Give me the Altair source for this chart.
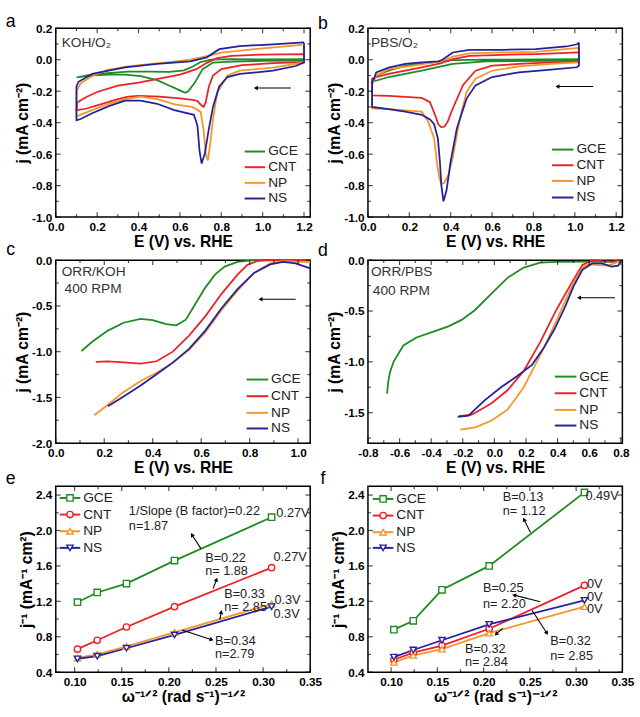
import math
import altair as alt
import pandas as pd

FONT = "Liberation Sans"
SERIES = ["GCE", "CNT", "NP", "NS"]
COLORS = ["#1f8b24", "#ec2227", "#f7942a", "#21239b"]
SHAPES = ["square", "circle", "triangle-up", "triangle-down"]
W = 260

# ---------------- (a) CV in O2-saturated KOH (closed loops) ----------------
a_gce_x = [1.20, 1.00, 0.85, 0.76, 0.71, 0.67, 0.64, 0.625, 0.60, 0.55, 0.49, 0.41, 0.335, 0.256, 0.176, 0.10,
           0.15, 0.25, 0.35, 0.45, 0.55, 0.62, 0.66, 0.70, 0.75, 0.85, 1.00, 1.20, 1.20]
a_gce_y = [-0.006, -0.008, -0.012, -0.018, -0.06, -0.15, -0.20, -0.21, -0.195, -0.165, -0.13, -0.105, -0.095, -0.095, -0.10, -0.113,
           -0.10, -0.085, -0.075, -0.075, -0.078, -0.068, -0.045, -0.015, 0.0, 0.003, 0.002, 0.003, -0.006]
a_cnt_x = [1.20, 1.20, 1.05, 0.90, 0.80, 0.76, 0.74, 0.725, 0.715, 0.70, 0.685, 0.66, 0.60, 0.50, 0.40, 0.35, 0.30, 0.20, 0.15, 0.105, 0.10,
           0.105, 0.15, 0.20, 0.30, 0.40, 0.50, 0.60, 0.68, 0.73, 0.78, 0.85, 1.00, 1.20]
a_cnt_y = [0.035, -0.015, -0.022, -0.035, -0.06, -0.10, -0.17, -0.27, -0.30, -0.285, -0.262, -0.255, -0.245, -0.235, -0.23, -0.235, -0.25, -0.29, -0.31, -0.32, -0.32,
           -0.27, -0.235, -0.205, -0.165, -0.145, -0.12, -0.095, -0.06, -0.02, 0.01, 0.025, 0.032, 0.035]
a_np_x = [1.20, 1.20, 1.05, 0.89, 0.83, 0.78, 0.76, 0.745, 0.735, 0.725, 0.715, 0.70, 0.66, 0.58, 0.49, 0.41, 0.335, 0.256, 0.176, 0.11, 0.10,
          0.10, 0.12, 0.18, 0.25, 0.35, 0.45, 0.55, 0.65, 0.72, 0.80, 0.96, 1.19]
a_np_y = [0.095, -0.017, -0.05, -0.07, -0.10, -0.21, -0.38, -0.55, -0.64, -0.60, -0.45, -0.33, -0.30, -0.285, -0.25, -0.235, -0.25, -0.28, -0.32, -0.355, -0.36,
          -0.20, -0.15, -0.10, -0.065, -0.042, -0.028, -0.015, 0.0, 0.02, 0.045, 0.067, 0.094]
a_ns_x = [1.20, 1.20, 1.16, 1.05, 0.89, 0.83, 0.79, 0.76, 0.74, 0.72, 0.705, 0.695, 0.685, 0.668, 0.573, 0.49, 0.41, 0.335, 0.256, 0.176, 0.12, 0.10,
          0.10, 0.11, 0.176, 0.335, 0.49, 0.65, 0.73, 0.79, 0.89, 1.05, 1.20]
a_ns_y = [0.11, -0.017, -0.04, -0.07, -0.09, -0.11, -0.17, -0.30, -0.44, -0.60, -0.66, -0.58, -0.42, -0.35, -0.32, -0.28, -0.26, -0.26, -0.295, -0.34, -0.377, -0.385,
          -0.17, -0.14, -0.09, -0.048, -0.027, -0.01, 0.015, 0.067, 0.087, 0.098, 0.11]

# ---------------- (b) CV in O2-saturated PBS ----------------
b_gce_x = [1.02, 1.02, 0.57, 0.41, 0.26, 0.10, 0.02, 0.02, 0.04, 0.10, 0.18, 0.26, 0.335, 0.41, 0.57, 1.02]
b_gce_y = [0.004, -0.006, -0.01, -0.027, -0.07, -0.11, -0.14, -0.14, -0.10, -0.07, -0.038, -0.023, -0.013, -0.002, 0.0, 0.004]
b_cnt_x = [1.02, 1.02, 0.885, 0.73, 0.60, 0.52, 0.46, 0.41, 0.385, 0.37, 0.355, 0.34, 0.33, 0.30, 0.26, 0.10, 0.02,
           0.02, 0.04, 0.10, 0.26, 0.35, 0.41, 0.49, 0.65, 0.81, 1.02]
b_cnt_y = [0.046, -0.01, -0.017, -0.027, -0.038, -0.07, -0.16, -0.31, -0.395, -0.425, -0.43, -0.41, -0.37, -0.27, -0.243, -0.23, -0.226,
           -0.12, -0.11, -0.09, -0.048, -0.023, 0.004, 0.025, 0.031, 0.036, 0.046]
b_np_x = [1.02, 1.02, 0.885, 0.73, 0.60, 0.52, 0.477, 0.445, 0.41, 0.39, 0.37, 0.355, 0.345, 0.335, 0.32, 0.29, 0.26, 0.10, 0.02,
          0.02, 0.04, 0.10, 0.26, 0.35, 0.41, 0.49, 0.65, 0.81, 1.02]
b_np_y = [0.075, -0.017, -0.027, -0.042, -0.07, -0.12, -0.205, -0.37, -0.62, -0.73, -0.78, -0.79, -0.75, -0.67, -0.50, -0.39, -0.33, -0.314, -0.31,
          -0.16, -0.10, -0.06, -0.03, -0.013, 0.02, 0.04, 0.046, 0.05, 0.075]
b_ns_x = [1.02, 1.02, 1.01, 0.885, 0.73, 0.60, 0.52, 0.477, 0.43, 0.40, 0.38, 0.365, 0.355, 0.348, 0.338, 0.32, 0.30, 0.26, 0.18, 0.10, 0.02,
          0.02, 0.03, 0.04, 0.10, 0.18, 0.26, 0.34, 0.36, 0.41, 0.49, 0.65, 0.81, 0.96, 1.01, 1.02]
b_ns_y = [0.11, -0.038, -0.048, -0.063, -0.08, -0.11, -0.163, -0.247, -0.435, -0.645, -0.83, -0.90, -0.80, -0.65, -0.50, -0.41, -0.38, -0.35, -0.33, -0.314, -0.30,
          -0.14, -0.12, -0.08, -0.05, -0.027, -0.017, -0.01, 0.0, 0.046, 0.063, 0.063, 0.067, 0.084, 0.098, 0.11]

# ---------------- (c) LSV, ORR in KOH at 400 rpm ----------------
c_gce_x = [0.106, 0.149, 0.215, 0.28, 0.35, 0.40, 0.456, 0.497, 0.537, 0.577, 0.617, 0.657, 0.697, 0.75, 0.818, 0.90, 1.05]
c_gce_y = [-0.993, -0.895, -0.77, -0.684, -0.642, -0.656, -0.70, -0.712, -0.65, -0.474, -0.30, -0.158, -0.07, -0.018, 0.0, 0.0, 0.0]
c_cnt_x = [0.165, 0.215, 0.28, 0.35, 0.416, 0.483, 0.55, 0.617, 0.684, 0.75, 0.79, 0.83, 0.885, 0.95, 1.05]
c_cnt_y = [-1.112, -1.105, -1.116, -1.13, -1.105, -1.0, -0.825, -0.614, -0.368, -0.158, -0.053, -0.01, 0.0, -0.005, -0.01]
c_np_x = [0.159, 0.215, 0.28, 0.35, 0.416, 0.483, 0.55, 0.617, 0.684, 0.75, 0.818, 0.885, 0.938, 1.0, 1.05]
c_np_y = [-1.695, -1.58, -1.44, -1.32, -1.23, -1.12, -0.98, -0.79, -0.544, -0.333, -0.14, -0.035, -0.01, -0.018, -0.02]
c_ns_x = [0.215, 0.28, 0.35, 0.416, 0.483, 0.55, 0.617, 0.684, 0.75, 0.818, 0.885, 0.938, 0.99, 1.05]
c_ns_y = [-1.596, -1.49, -1.37, -1.246, -1.12, -0.97, -0.77, -0.526, -0.316, -0.14, -0.046, -0.018, -0.035, -0.09]

# ---------------- (d) LSV, ORR in PBS at 400 rpm ----------------
d_gce_x = [-0.679, -0.672, -0.66, -0.637, -0.576, -0.493, -0.39, -0.287, -0.205, -0.122, -0.02, 0.083, 0.186, 0.29, 0.392, 0.60, 0.80]
d_gce_y = [-1.313, -1.20, -1.10, -0.997, -0.839, -0.76, -0.706, -0.649, -0.585, -0.49, -0.332, -0.174, -0.073, -0.025, -0.016, -0.015, -0.015]
d_cnt_x = [-0.225, -0.143, -0.02, 0.083, 0.186, 0.29, 0.392, 0.495, 0.557, 0.619, 0.68, 0.742, 0.80]
d_cnt_y = [-1.535, -1.52, -1.41, -1.28, -1.09, -0.807, -0.49, -0.206, -0.047, 0.0, -0.01, -0.016, 0.0]
d_np_x = [-0.215, -0.122, -0.02, 0.083, 0.186, 0.29, 0.35, 0.42, 0.495, 0.56, 0.60, 0.64, 0.722, 0.784, 0.80]
d_np_y = [-1.668, -1.645, -1.58, -1.47, -1.25, -0.934, -0.74, -0.50, -0.24, -0.07, -0.04, -0.047, -0.054, -0.016, 0.01]
d_ns_x = [-0.232, -0.164, -0.06, 0.042, 0.145, 0.238, 0.31, 0.38, 0.45, 0.50, 0.557, 0.619, 0.68, 0.742, 0.784, 0.80]
d_ns_y = [-1.541, -1.53, -1.377, -1.25, -1.14, -1.03, -0.87, -0.68, -0.45, -0.26, -0.095, -0.032, -0.032, -0.063, -0.054, -0.01]

# ---------------- (e), (f) Koutecky-Levich plots ----------------
kl_x = [0.103, 0.124, 0.155, 0.206, 0.309]
e_gce = [1.19, 1.30, 1.40, 1.66, 2.15]
e_cnt = [0.66, 0.76, 0.91, 1.14, 1.58]
e_np = [0.56, 0.60, 0.69, 0.85, 1.17]
e_ns = [0.55, 0.58, 0.67, 0.82, 1.14]
f_gce = [0.88, 0.98, 1.33, 1.60, 2.43]
f_cnt = [0.54, 0.62, 0.70, 0.89, 1.38]
f_np = [0.51, 0.59, 0.66, 0.84, 1.14]
f_ns = [0.57, 0.65, 0.76, 0.94, 1.21]

e_note_text = ["1/Slope (B factor)=0.22", "n=1.87", "0.27V", "0.27V", "B=0.22", "n= 1.88",
               "B=0.33", "n= 2.85", "0.3V", "0.3V", "B=0.34", "n=2.79"]
e_note_x = [0.1575, 0.1575, 0.314, 0.311, 0.2385, 0.2385, 0.2587, 0.2587, 0.312, 0.311, 0.249, 0.249]
e_note_y = [2.217, 2.05, 2.20, 1.70, 1.684, 1.545, 1.28, 1.134, 1.215, 1.06, 0.749, 0.602]
f_note_text = ["B=0.13", "n= 1.12", "0.49V", "0V", "0V", "0V", "B=0.25", "n= 2.20",
               "B=0.32", "n= 2.84", "B=0.32", "n= 2.85"]
f_note_x = [0.2206, 0.2206, 0.310, 0.3117, 0.3117, 0.3117, 0.1993, 0.1993, 0.1798, 0.1798, 0.272, 0.272]
f_note_y = [2.38, 2.217, 2.39, 1.39, 1.25, 1.11, 1.354, 1.17, 0.657, 0.51, 0.75, 0.576]

# pointer arrows (tail x, tail y, head x, head y)
e_arrows = [(0.234, 1.795, 0.2245, 1.952), (0.247, 1.343, 0.2506, 1.446),
            (0.254, 0.994, 0.2556, 1.079), (0.214, 0.877, 0.2454, 0.767)]
f_arrows = [(0.2507, 1.978, 0.2436, 2.125), (0.2613, 1.196, 0.233, 1.27),
            (0.2525, 1.097, 0.2684, 0.84), (0.2206, 0.895, 0.2135, 0.829)]
# scan-direction arrows
a_scan = [(1.137, -0.18, 0.967, -0.18)]
b_scan = [(1.089, -0.17, 0.916, -0.17)]
c_scan = [(0.99, -0.428, 0.845, -0.428)]
d_scan = [(0.763, -0.37, 0.536, -0.37)]


def steps(start, stop, step):
    n = int(round((stop - start) / step))
    return [round(start + k * step, 4) for k in range(n + 1)]


def curve_frame(pairs):
    rows = []
    for name, xs, ys in pairs:
        for i, (x, y) in enumerate(zip(xs, ys)):
            rows.append({"s": name, "i": i, "x": x, "y": y})
    return pd.DataFrame(rows)


def axis(vals, fmt, title):
    return alt.Axis(values=vals, format=fmt, title=title,
                    labelExpr="replace(datum.label, '\u2212', '-')",
                    labelFlush=False, labelOverlap=False)


def build_panel(df, H, xdom, ydom, xmaj, xmin, ymaj, ymin, xfmt, yfmt, xtitle, ytitle,
                letter, letter_y, tags, notes, arrows, legend, kl=False):
    X = alt.X("x:Q", scale=alt.Scale(domain=xdom, nice=False, zero=False), axis=axis(xmaj, xfmt, xtitle))
    Y = alt.Y("y:Q", scale=alt.Scale(domain=ydom, nice=False, zero=False), axis=axis(ymaj, yfmt, ytitle))
    col = alt.Color("s:N", scale=alt.Scale(domain=SERIES, range=COLORS), legend=None)
    layers = [alt.Chart(df).mark_line(strokeWidth=1.8).encode(X, Y, col, order="i:Q")]
    if kl:
        layers.append(alt.Chart(df).mark_point(filled=True, fill="white", size=42, strokeWidth=1.4, opacity=1).encode(
            X, Y,
            stroke=alt.Stroke("s:N", scale=alt.Scale(domain=SERIES, range=COLORS), legend=None),
            shape=alt.Shape("s:N", scale=alt.Scale(domain=SERIES, range=SHAPES), legend=None)))

    # inward ticks on all four sides
    for vals, L in ((xmaj, 5), (xmin, 3)):
        d = pd.DataFrame({"x": vals})
        for py in (H - L / 2, L / 2):
            layers.append(alt.Chart(d).mark_tick(orient="vertical", size=L, thickness=1.2, color="black")
                          .encode(X, y=alt.value(py)))
    for vals, L in ((ymaj, 5), (ymin, 3)):
        d = pd.DataFrame({"y": vals})
        for px in (L / 2, W - L / 2):
            layers.append(alt.Chart(d).mark_tick(orient="horizontal", size=L, thickness=1.2, color="black")
                          .encode(Y, x=alt.value(px)))

    # arrows
    if arrows:
        rx, ry = xdom[1] - xdom[0], ydom[1] - ydom[0]
        tails = pd.DataFrame([{"x": a[0], "y": a[1], "x2": a[2], "y2": a[3]} for a in arrows])
        heads = pd.DataFrame([{"x": a[2], "y": a[3],
                               "ang": math.degrees(math.atan2((a[2] - a[0]) / rx * W,
                                                              (a[3] - a[1]) / ry * H)) % 360}
                              for a in arrows])
        layers.append(alt.Chart(tails).mark_rule(strokeWidth=1.1, color="black")
                      .encode(X, Y, x2="x2:Q", y2="y2:Q"))
        layers.append(alt.Chart(heads).mark_point(shape="triangle-up", filled=True, size=22, color="black", opacity=1)
                      .encode(X, Y, angle=alt.Angle("ang:Q", scale=None)))

    # text notes in data coordinates
    if notes:
        nd = pd.DataFrame({"x": notes[0], "y": notes[1], "t": notes[2]})
        layers.append(alt.Chart(nd).mark_text(align="left", baseline="middle", fontSize=13, font=FONT, color="#222")
                      .encode(X, Y, text="t:N"))

    # condition labels placed in pixel space
    for px, py, t in tags:
        layers.append(alt.Chart(pd.DataFrame({"t": [t]})).mark_text(
            align="left", baseline="middle", fontSize=14, font=FONT, color="#333")
            .encode(x=alt.value(px), y=alt.value(py), text="t:N"))

    # panel letter
    layers.append(alt.Chart(pd.DataFrame({"t": [letter]})).mark_text(
        align="center", baseline="middle", fontSize=18, font=FONT, color="black")
        .encode(x=alt.value(-46), y=alt.value(letter_y), text="t:N"))

    # legend
    x0, x1, tx, rows, mx = legend
    for k, s in enumerate(SERIES):
        yk = rows[k]
        layers.append(alt.Chart(pd.DataFrame({"t": [s]})).mark_rule(color=COLORS[k], strokeWidth=2)
                      .encode(x=alt.value(x0), x2=alt.value(x1), y=alt.value(yk)))
        if kl:
            layers.append(alt.Chart(pd.DataFrame({"t": [s]})).mark_point(
                shape=SHAPES[k], filled=True, fill="white", stroke=COLORS[k], size=42, strokeWidth=1.4, opacity=1)
                .encode(x=alt.value(mx), y=alt.value(yk)))
        layers.append(alt.Chart(pd.DataFrame({"t": [s]})).mark_text(
            align="left", baseline="middle", fontSize=14, font=FONT, color="#222")
            .encode(x=alt.value(tx), y=alt.value(yk), text="t:N"))

    return alt.layer(*layers).properties(width=W, height=H)


EX = "E (V) vs. RHE"
JY = "j (mA cm\u207b\u00b2)"
KX = "\u03c9\u207b\u00b9\u141f\u00b2 (rad s\u207b\u00b9)\u207b\u00b9\u141f\u00b2"
KY = "j\u207b\u00b9 (mA\u207b\u00b9 cm\u00b2)"

cv_xmaj = steps(0, 1.2, 0.2)
cv_xmin = steps(0.1, 1.1, 0.2)
cv_ymaj = steps(-1.0, 0.2, 0.2)
cv_ymin = steps(-0.9, 0.1, 0.2)

pa = build_panel(curve_frame([("GCE", a_gce_x, a_gce_y), ("CNT", a_cnt_x, a_cnt_y),
                              ("NP", a_np_x, a_np_y), ("NS", a_ns_x, a_ns_y)]),
                 193, [0, 1.23], [-1.0, 0.2], cv_xmaj, cv_xmin, cv_ymaj, cv_ymin, ".1f", ".1f", EX, JY,
                 "a", -6, [(6, 15, "KOH/O\u2082")], None, a_scan,
                 (193, 214, 217, [126, 142, 158, 174], None))
pb = build_panel(curve_frame([("GCE", b_gce_x, b_gce_y), ("CNT", b_cnt_x, b_cnt_y),
                              ("NP", b_np_x, b_np_y), ("NS", b_ns_x, b_ns_y)]),
                 193, [0, 1.23], [-1.0, 0.2], cv_xmaj, cv_xmin, cv_ymaj, cv_ymin, ".1f", ".1f", EX, JY,
                 "b", -4, [(3, 15, "PBS/O\u2082")], None, b_scan,
                 (188, 210, 213, [124, 140, 156, 173], None))
pc = build_panel(curve_frame([("GCE", c_gce_x, c_gce_y), ("CNT", c_cnt_x, c_cnt_y),
                              ("NP", c_np_x, c_np_y), ("NS", c_ns_x, c_ns_y)]),
                 187, [0, 1.05], [-2.0, 0.0], steps(0, 1.0, 0.2), steps(0.1, 0.9, 0.2),
                 steps(-2.0, 0, 0.5), steps(-1.75, -0.25, 0.5), ".1f", ".1f", EX, JY,
                 "c", -10, [(6, 12, "ORR/KOH"), (9, 30, "400 RPM")], None, c_scan,
                 (195, 217, 220, [122, 139, 156, 172], None))
pd_ = build_panel(curve_frame([("GCE", d_gce_x, d_gce_y), ("CNT", d_cnt_x, d_cnt_y),
                               ("NP", d_np_x, d_np_y), ("NS", d_ns_x, d_ns_y)]),
                  187, [-0.8, 0.81], [-1.8, 0.0], steps(-0.8, 0.8, 0.2), steps(-0.7, 0.7, 0.2),
                  steps(-1.5, 0, 0.5), steps(-1.75, -0.25, 0.5), ".1f", ".1f", EX, JY,
                  "d", -9, [(3, 12, "ORR/PBS"), (5, 32, "400 RPM")], None, d_scan,
                  (191, 213, 216, [119, 136, 153, 169], None))
pe = build_panel(curve_frame([("GCE", kl_x, e_gce), ("CNT", kl_x, e_cnt),
                              ("NP", kl_x, e_np), ("NS", kl_x, e_ns)]),
                 190, [0.08, 0.35], [0.4, 2.5], steps(0.10, 0.35, 0.05), steps(0.125, 0.325, 0.05),
                 steps(0.4, 2.4, 0.4), steps(0.6, 2.2, 0.4), ".2f", ".1f", KX, KY,
                 "e", -7, [], (e_note_x, e_note_y, e_note_text), e_arrows,
                 (4, 25, 28, [12, 29, 46, 63], 14.5), kl=True)
pf = build_panel(curve_frame([("GCE", kl_x, f_gce), ("CNT", kl_x, f_cnt),
                              ("NP", kl_x, f_np), ("NS", kl_x, f_ns)]),
                 190, [0.075, 0.35], [0.4, 2.5], steps(0.10, 0.35, 0.05), steps(0.125, 0.325, 0.05),
                 steps(0.4, 2.4, 0.4), steps(0.6, 2.2, 0.4), ".2f", ".1f", KX, KY,
                 "f", -7, [], (f_note_x, f_note_y, f_note_text), f_arrows,
                 (5, 26, 29, [13, 30, 47, 63], 15.5), kl=True)

chart = alt.concat(pa, pb, pc, pd_, pe, pf, columns=2, bounds="flush",
                   spacing={"row": 44, "column": 59}).configure_view(
    stroke="black", strokeWidth=1.5
).configure_axis(
    domain=False, ticks=False, grid=False,
    labelFont=FONT, labelFontWeight="bold", labelFontSize=12, labelColor="black",
    titleFont=FONT, titleFontWeight="bold", titleFontSize=16, titleColor="black"
).configure_axisX(labelPadding=5, titlePadding=1).configure_axisY(labelPadding=4, titlePadding=1)

chart.save("out.html", embed_options={"renderer": "svg", "actions": False})
